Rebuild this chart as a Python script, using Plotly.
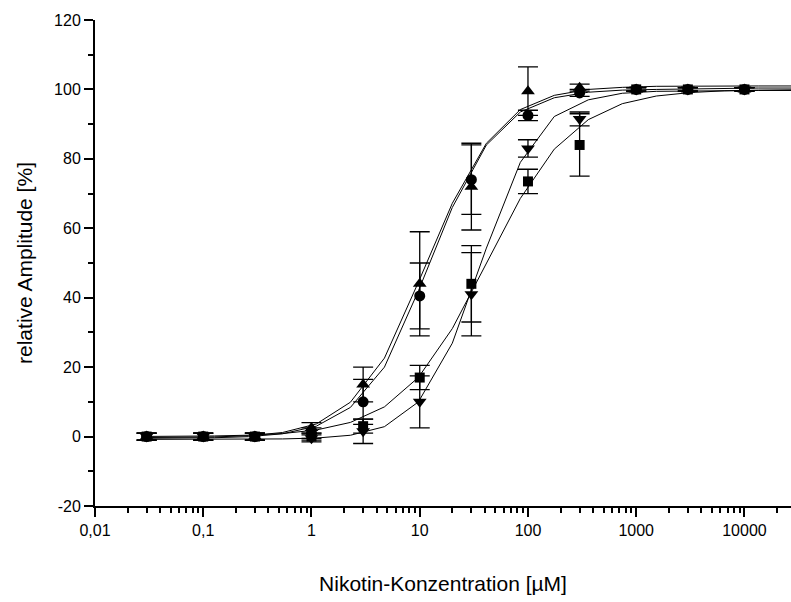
import plotly.graph_objects as go

# Measured concentrations (µM)
conc = [0.03, 0.1, 0.3, 1, 3, 10, 30, 100, 300, 1000, 3000, 10000]

# Series values (relative amplitude, %) and error bars
circle_y = [0, 0, 0, 1, 10, 40.5, 74, 92.5, 99, 100, 100, 100]
circle_err = [1, 1, 1, 1.5, 6.5, 9.5, 10, 1.5, 1, 0.5, 0.5, 0.5]

tri_up_y = [0, 0, 0, 2.5, 15, 44, 72, 99.5, 100.5, 100, 100, 100]
tri_up_err = [1, 1, 1, 1.5, 5, 15, 12.5, 7, 1, 0.5, 0.5, 0.5]

square_y = [0, 0, 0, 0, 3, 17, 44, 73.5, 84, 100, 100, 100]
square_err = [1, 1, 1, 1, 2, 3.5, 11, 3.5, 9, 0.5, 0.5, 0.5]

tri_down_y = [0, 0, 0, -0.5, 1.5, 10, 41, 83, 91.5, 100, 100, 100]
tri_down_err = [1, 1, 1, 1, 3.5, 7.5, 12, 2.5, 2, 0.5, 0.5, 0.5]

# Fitted curves at its polyline vertices
fit_x = [0.03, 0.0618, 0.127, 0.262, 0.54, 1.11, 2.29, 4.72, 9.73, 20.0,
         41.3, 85, 175, 361, 744, 1532, 3157, 6503, 13400, 27600]
fit_circle = [-0.48, -0.44, -0.33, -0.03, 0.8, 3.0, 8.4, 20.0, 42.0, 66.0,
              84.0, 93.5, 97.6, 99.2, 99.8, 100.0, 100.2, 100.3, 100.4, 100.4]
fit_tri_up = [-0.27, -0.23, -0.1, 0.24, 1.17, 3.64, 9.9, 22.6, 44.5, 67.2,
              84.5, 94.2, 98.3, 100.0, 100.6, 100.9, 101.0, 101.0, 101.0, 101.0]
fit_square = [0.04, 0.08, 0.18, 0.4, 0.87, 1.9, 4.08, 8.55, 17.05, 31.1,
              49.8, 68.6, 82.8, 91.3, 95.9, 98.1, 99.1, 99.6, 99.8, 99.9]
fit_tri_down = [-0.8, -0.8, -0.8, -0.76, -0.68, -0.43, 0.38, 2.85, 10.0, 26.9,
                54.3, 79.0, 92.2, 97.0, 98.9, 99.45, 99.6, 99.65, 99.7, 99.7]

x_tickvals = [0.01, 0.1, 1, 10, 100, 1000, 10000]
x_ticktext = ["0,01", "0,1", "1", "10", "100", "1000", "10000"]
y_tickvals = [-20, 0, 20, 40, 60, 80, 100, 120]
y_ticktext = ["-20", "0", "20", "40", "60", "80", "100", "120"]

fig = go.Figure()

for fy in [fit_circle, fit_tri_up, fit_square, fit_tri_down]:
    fig.add_trace(go.Scatter(x=fit_x, y=fy, mode="lines",
                             line=dict(color="black", width=1),
                             hoverinfo="skip", showlegend=False))

series = [
    (circle_y, circle_err, "circle", 11),
    (tri_up_y, tri_up_err, "triangle-up", 12),
    (square_y, square_err, "square", 10),
    (tri_down_y, tri_down_err, "triangle-down", 12),
]
for ys, es, sym, sz in series:
    fig.add_trace(go.Scatter(
        x=conc, y=ys, mode="markers",
        marker=dict(symbol=sym, size=sz, color="black", line=dict(width=0)),
        error_y=dict(type="data", array=es, visible=True, color="black",
                     thickness=1.3, width=10),
        showlegend=False))

fig.update_layout(
    width=791, height=602,
    margin=dict(l=95, r=0, t=20, b=96),
    paper_bgcolor="white", plot_bgcolor="white",
    font=dict(family="Liberation Sans, Arial, sans-serif", color="black", size=16),
    showlegend=False,
)
fig.update_xaxes(
    type="log", range=[-2, 4.43], automargin=False,
    tickvals=x_tickvals, ticktext=x_ticktext,
    ticks="outside", ticklen=9, tickwidth=1.5, tickcolor="black",
    minor=dict(ticks="outside", ticklen=5, tickwidth=1.5, tickcolor="black",
               dtick="D1", showgrid=False),
    showline=True, linecolor="black", linewidth=2,
    showgrid=False, zeroline=False,
    tickfont=dict(size=16),
    title=dict(text="Nikotin-Konzentration [µM]", font=dict(size=21), standoff=38),
)
fig.update_yaxes(
    range=[-20, 120], automargin=False,
    tickvals=y_tickvals, ticktext=y_ticktext,
    ticks="outside", ticklen=9, tickwidth=1.5, tickcolor="black",
    minor=dict(ticks="outside", ticklen=5, tickwidth=1.5, tickcolor="black",
               dtick=10, showgrid=False),
    showline=True, linecolor="black", linewidth=2,
    showgrid=False, zeroline=False,
    tickfont=dict(size=16),
    title=dict(text="relative Amplitude [%]", font=dict(size=21), standoff=16),
)

fig.write_html("out.html",
               config={"displayModeBar": False},
               post_script="document.body.style.margin='0';document.body.style.overflow='hidden';")
